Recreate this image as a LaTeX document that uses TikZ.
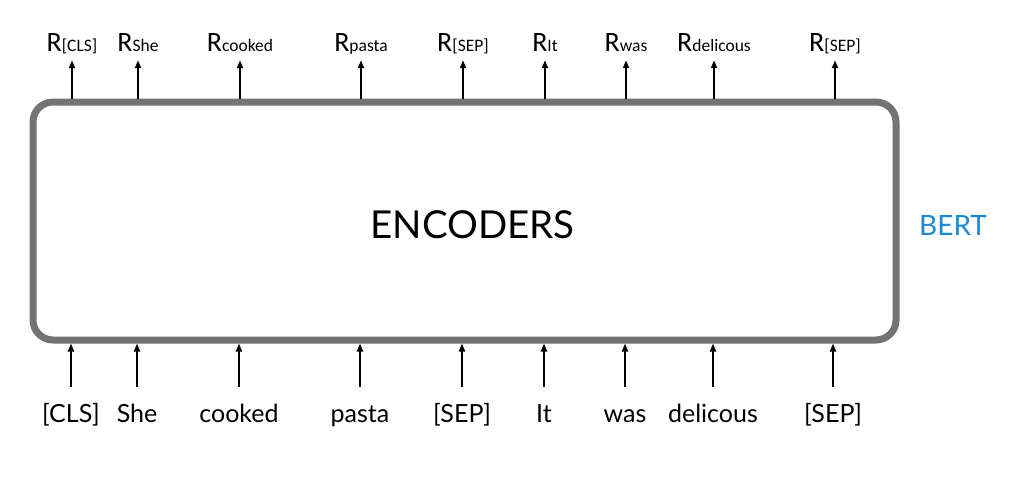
\documentclass[tikz,border=0pt]{standalone}
\usepackage{fontspec}
\setmainfont{Lato}
\newfontfamily\calfont{Carlito}
\usetikzlibrary{arrows.meta}
\definecolor{boxgray}{HTML}{737373}
\definecolor{bertblue}{HTML}{1E88D2}
\begin{document}
\begin{tikzpicture}[x=1pt,y=-1pt,
  arr/.style={line width=2pt,-{Triangle[length=8pt,width=6pt]}},
  tok/.style={anchor=base,inner sep=0pt,text height=19pt,text depth=6pt,font=\fontsize{25}{25}\selectfont},
  outl/.style={anchor=base,inner sep=0pt,text height=19pt,text depth=4pt,font=\calfont\fontsize{28}{28}\selectfont},
  encbox/.style={draw=boxgray,line width=7pt,rounded corners=20pt,minimum width=863pt,minimum height=238pt,inner sep=0pt}]
\useasboundingbox (0,0) rectangle (1017,487);
\fill[white] (0,0) rectangle (1017,487);
\newcommand\sub[1]{{\fontsize{17.5}{17.5}\selectfont #1}}
\node[encbox] (enc) at (464.5,221) {};
\node[font=\fontsize{38.5}{38.5}\selectfont,inner sep=0pt] (enclabel) at (472.5,225) {ENCODERS};
\node[font=\fontsize{28}{28}\selectfont,text=bertblue,anchor=base west,inner sep=0pt] (bert) at (919,235) {BERT};
\foreach \n/\x/\w/\xi in {1/72/[CLS]/71,2/138/She/137,3/240/cooked/239,4/361/pasta/360,5/463/[SEP]/462,6/545/It/544,7/626/was/625,8/714/delicous/713,9/835/[SEP]/833}{
  \node[outl] (o\n) at (\x,52) {R\sub{\w}};
  \node[tok] (t\n) at (\xi,422) {\w};
  \draw[arr] (enc.north -| o\n) -- ([yshift=-4pt]o\n.south);
  \draw[arr] ([yshift=16pt]t\n.north) -- (t\n.north |- enc.south);
}
\end{tikzpicture}
\end{document}
